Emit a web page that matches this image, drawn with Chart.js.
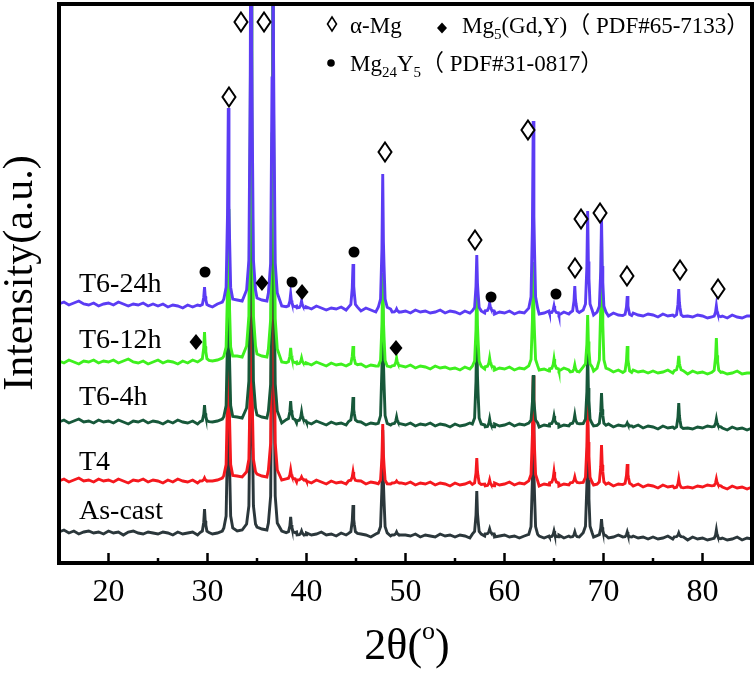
<!DOCTYPE html>
<html>
<head>
<meta charset="utf-8">
<script src="https://cdn.jsdelivr.net/npm/chart.js@4.4.1/dist/chart.umd.min.js"></script>
<style>
  html, body { margin: 0; padding: 0; background: #fff; }
  #wrap { width: 756px; height: 688px; }
</style>
</head>
<body>
<div id="wrap"><canvas id="xrd" width="756" height="688"></canvas></div>
<script>
// baseline samples every 0.5° from 15 to 85 (stacked intensity, a.u.)
const baseStart = 15;
const baseStep = 0.5;
const baseAsCast = [
  31,33,30,32,29,31,32,30,31,29, 32,30,31,28,31,32,30,29,31,30, 29,31,30,28,31,29,30,31,28,30,
  31,29,30,32,31,30,32,33,34,33, 36,34,33,31,30,32,29,30,31,28, 30,28,29,31,28,29,27,30,28,29,
  27,29,28,26,29,28,30,27,28,26, 28,27,29,26,28,27,26,29,27,28, 26,28,27,25,28,26,27,29,26,27,
  28,26,27,25,27,28,26,27,25,27, 26,28,25,27,26,27,25,28,26,25, 27,25,26,28,24,26,27,25,26,24,
  26,24,25,27,24,26,25,23,26,24, 25,23,26,24,25,23,24,26,23,25, 24];
const baseT4 = [
  82,84,81,83,85,82,83,81,84,82, 83,81,84,82,80,83,82,84,81,83, 82,80,83,81,84,82,81,83,80,82,
  84,82,83,85,84,86,87,86,88,87, 89,87,86,84,85,83,82,84,81,83, 82,80,83,81,79,82,80,81,79,82,
  80,82,79,81,80,78,81,79,80,82, 79,81,78,80,79,81,78,80,79,77, 80,78,79,81,78,80,79,77,80,78,
  79,81,78,80,79,78,80,77,79,78, 80,77,79,78,80,78,77,79,78,76, 78,80,77,79,76,78,77,79,76,78,
  77,75,78,76,77,75,78,76,75,77, 76,78,75,77,76,74,77,75,76,74, 76];
const baseT6_4h = [
  141,143,140,142,144,141,142,140,143,141, 142,140,143,141,139,142,141,143,140,142, 141,139,142,140,143,141,140,142,139,141,
  143,141,142,144,143,145,146,145,147,146, 148,146,145,143,142,140,141,143,140,142, 141,139,142,140,138,141,139,140,138,141,
  139,141,138,140,139,137,140,138,139,141, 138,140,137,139,138,140,137,139,138,136, 139,137,138,140,137,139,138,136,139,137,
  138,140,137,139,138,137,139,136,138,137, 139,136,138,137,139,137,136,138,137,135, 137,139,136,138,135,137,136,138,135,137,
  136,134,137,135,136,134,137,135,134,136, 135,137,134,136,135,133,136,134,135,133, 135];
const baseT6_12h = [
  202,200,203,201,199,202,201,203,200,202, 201,203,200,202,204,201,200,202,199,201, 203,200,202,201,199,202,200,203,201,202,
  204,202,203,205,204,206,207,206,208,207, 209,207,206,204,203,201,202,200,201,199, 200,198,201,199,197,200,198,199,197,198,
  197,199,196,198,197,195,198,196,197,195, 196,198,195,197,196,194,197,195,196,194, 195,193,196,194,195,197,194,196,193,195,
  194,196,193,195,194,192,195,193,194,192, 194,192,195,193,191,194,193,195,192,193, 192,194,191,193,192,190,193,191,192,190,
  192,190,191,193,190,192,191,189,192,190, 191,189,192,190,191,189,190,192,189,190, 190];
const baseT6_24h = [
  259,261,258,260,262,259,258,260,257,259, 260,258,261,259,257,259,258,260,257,259, 257,259,256,258,257,255,258,256,258,257,
  258,256,259,261,260,262,263,262,264,263, 265,263,262,260,259,257,258,256,257,255, 256,254,257,255,253,255,254,256,253,255,
  254,252,255,253,251,253,252,254,251,253, 252,250,253,251,252,250,251,253,250,252, 251,249,252,250,251,249,250,252,249,251,
  250,252,249,251,250,248,251,249,250,252, 250,248,251,249,250,248,249,251,248,250, 249,247,250,248,249,247,250,248,247,249,
  248,246,249,247,248,246,249,247,246,248, 247,245,248,246,247,245,248,246,245,247, 247];

// diffraction peaks (2θ) and their heights above each baseline
const peakPos      = [29.7, 32.1, 34.4, 36.6, 38.4, 39.5, 44.7, 47.7, 49.1, 57.2, 58.5, 62.9, 65.0, 67.1, 68.4, 69.8, 72.4, 77.6, 81.4];
const peakAsCast   = [24, 200, 300, 450, 16, 4, 29, 105, 3, 44, 5, 130, 6, 5, 110, 17, 5, 4, 9];
const peakT4       = [3, 180, 210, 450, 9, 3, 9, 61, 2, 27, 6, 107, 11, 6, 84, 40, 21, 9, 7];
const peakT6_4h    = [17, 180, 450, 450, 19, 9, 25, 130, 7, 100, 8, 49, 8, 9, 74, 33, 3, 26, 8];
const peakT6_12h   = [29, 150, 500, 500, 15, 6, 19, 95, 8, 85, 9, 106, 10, 7, 53, 140, 27, 15, 35];
const peakT6_24h   = [19, 195, 500, 500, 13, 7, 44, 136, 3, 57, 8, 191, 7, 27, 101, 96, 20, 28, 11];

// peak profile: 2θ offset from the peak centre and fraction of its height (Kα2 shoulder on the right)
const profileDx = [-0.45, -0.22, -0.08, 0, 0.07, 0.13, 0.24, 0.45];
const profileFr = [0.02, 0.08, 0.45, 1, 0.5, 0.33, 0.08, 0.02];

const seriesNames = ['T6-24h', 'T6-12h', 'T6-4h', 'T4', 'As-cast'];
const seriesColors = ['#5b3cf4', '#3ef01e', '#17583a', '#f5181e', '#2b373b'];
const labelY = [271, 215, 158, 93, 44];   // baseline of the sample names
const labelX = 17.02;

const xTicks = [20, 30, 40, 50, 60, 70, 80];
const xMinor = [25, 35, 45, 55, 65, 75];

// phase markers (2θ, intensity)
const alphaMgX = [33.38, 35.71, 32.17, 47.93, 57.02, 62.37, 67.12, 67.73, 69.65, 72.37, 77.73, 81.57];
const alphaMgY = [541, 541, 466, 411, 323, 433, 295, 344, 350, 287, 293, 274];
const mg24X = [29.75, 38.54, 44.80, 58.64, 65.20];
const mg24Y = [291, 281, 311, 266, 269];
const mg5X = [35.5, 39.55, 28.84, 49.04];
const mg5Y = [280, 271, 221, 215];

const SERIF = '"Liberation Serif", "Noto Sans CJK SC", serif';

function buildSeries(base, heights) {
    const pts = [];
    base.forEach((v, i) => {
        const x = baseStart + i * baseStep;
        if (peakPos.some(p => Math.abs(p - x) < 0.5)) return;
        pts.push({ x: x, y: v });
    });
    peakPos.forEach((p, k) => {
        const b = base[Math.round((p - baseStart) / baseStep)];
        profileDx.forEach((dx, j) => pts.push({ x: p + dx, y: b + profileFr[j] * heights[k] }));
    });
    return pts.sort((a, b) => a.x - b.x);
}

const seriesData = [
    buildSeries(baseT6_24h, peakT6_24h),
    buildSeries(baseT6_12h, peakT6_12h),
    buildSeries(baseT6_4h, peakT6_4h),
    buildSeries(baseT4, peakT4),
    buildSeries(baseAsCast, peakAsCast)
];

function openDiamond(ctx, x, y, hw, hh, lw) {
    ctx.beginPath();
    ctx.moveTo(x, y - hh); ctx.lineTo(x + hw, y); ctx.lineTo(x, y + hh); ctx.lineTo(x - hw, y); ctx.closePath();
    ctx.fillStyle = '#fff'; ctx.fill();
    ctx.lineWidth = lw; ctx.strokeStyle = '#000'; ctx.stroke();
}
function solidDiamond(ctx, x, y, hw, hh) {
    ctx.beginPath();
    ctx.moveTo(x, y - hh); ctx.lineTo(x + hw, y); ctx.lineTo(x, y + hh); ctx.lineTo(x - hw, y); ctx.closePath();
    ctx.fillStyle = '#000'; ctx.fill();
}
function dot(ctx, x, y, r) {
    ctx.beginPath(); ctx.arc(x, y, r, 0, Math.PI * 2); ctx.fillStyle = '#000'; ctx.fill();
}
function drawRuns(ctx, x, yBase, runs) {
    runs.forEach(([t, sub]) => {
        ctx.font = (sub ? '15px ' : '23px ') + SERIF;
        ctx.fillText(t, x, yBase + (sub ? 6 : 0));
        x += ctx.measureText(t).width;
    });
}

const decor = {
    id: 'decor',
    afterDatasetsDraw(chart) {
        const { ctx, chartArea: a, scales: { x, y } } = chart;
        ctx.save();
        // ticks (inward)
        ctx.strokeStyle = '#000';
        ctx.lineWidth = 2.5;
        xTicks.forEach(v => {
            const px = x.getPixelForValue(v);
            ctx.beginPath(); ctx.moveTo(px, a.bottom); ctx.lineTo(px, a.bottom - 10); ctx.stroke();
        });
        xMinor.forEach(v => {
            const px = x.getPixelForValue(v);
            ctx.beginPath(); ctx.moveTo(px, a.bottom); ctx.lineTo(px, a.bottom - 5); ctx.stroke();
        });
        // frame
        ctx.lineWidth = 4;
        ctx.strokeRect(a.left, a.top, a.right - a.left, a.bottom - a.top);

        // phase markers
        alphaMgX.forEach((v, i) => openDiamond(ctx, x.getPixelForValue(v), y.getPixelForValue(alphaMgY[i]), 6.5, 9.5, 2));
        mg24X.forEach((v, i) => dot(ctx, x.getPixelForValue(v), y.getPixelForValue(mg24Y[i]), 5.5));
        mg5X.forEach((v, i) => solidDiamond(ctx, x.getPixelForValue(v), y.getPixelForValue(mg5Y[i]), 6.5, 8));

        // sample names
        ctx.fillStyle = '#000';
        ctx.textBaseline = 'alphabetic';
        ctx.textAlign = 'left';
        ctx.font = '28px ' + SERIF;
        seriesNames.forEach((n, i) => ctx.fillText(n, x.getPixelForValue(labelX), y.getPixelForValue(labelY[i])));

        // legend
        openDiamond(ctx, 332, 24, 4.5, 7, 1.6);
        solidDiamond(ctx, 442, 28, 5, 5.5);
        dot(ctx, 331, 63, 3.8);
        ctx.fillStyle = '#000';
        drawRuns(ctx, 350, 33, [['α-Mg']]);
        drawRuns(ctx, 462, 33, [['Mg'], ['5', 1], ['(Gd,Y)（ PDF#65-7133）']]);
        drawRuns(ctx, 350, 71, [['Mg'], ['24', 1], ['Y'], ['5', 1], ['（ PDF#31-0817）']]);

        // y title
        ctx.save();
        ctx.translate(32, 273);
        ctx.rotate(-Math.PI / 2);
        ctx.font = '42px ' + SERIF;
        ctx.textAlign = 'center';
        ctx.fillText('Intensity(a.u.)', 0, 0);
        ctx.restore();

        // x title: 2θ(°)
        ctx.font = '44px ' + SERIF;
        const w1 = ctx.measureText('2θ(').width;
        const w3 = ctx.measureText(')').width;
        ctx.font = '26px ' + SERIF;
        const w2 = ctx.measureText('o').width;
        const tx = 407 - (w1 + w2 + w3) / 2;
        ctx.font = '44px ' + SERIF;
        ctx.fillText('2θ(', tx, 659);
        ctx.font = '26px ' + SERIF;
        ctx.fillText('o', tx + w1, 639);
        ctx.font = '44px ' + SERIF;
        ctx.fillText(')', tx + w1 + w2, 659);
        ctx.restore();
    }
};

const chart = new Chart(document.getElementById('xrd'), {
    type: 'line',
    data: {
        datasets: seriesNames.map((n, i) => ({
            label: n,
            data: seriesData[i],
            borderColor: seriesColors[i],
            borderWidth: 2.9,
            pointRadius: 0,
            tension: 0,
            fill: false
        }))
    },
    options: {
        responsive: false,
        animation: false,
        layout: { padding: { left: 0, right: 4, top: 4, bottom: 0 } },
        plugins: { legend: { display: false }, tooltip: { enabled: false } },
        scales: {
            x: {
                type: 'linear',
                min: 15,
                max: 85,
                grid: { display: false, drawTicks: false },
                border: { display: false },
                afterBuildTicks: s => { s.ticks = xTicks.map(v => ({ value: v })); },
                afterFit: s => { s.height = 125; },
                ticks: {
                    color: '#000',
                    padding: 10,
                    maxRotation: 0,
                    autoSkip: false,
                    font: { family: SERIF, size: 32 }
                }
            },
            y: {
                min: 0,
                max: 559,
                grid: { display: false, drawTicks: false },
                border: { display: false },
                ticks: { display: false },
                afterFit: s => { s.width = 59; }
            }
        }
    },
    plugins: [decor]
});
</script>
</body>
</html>
